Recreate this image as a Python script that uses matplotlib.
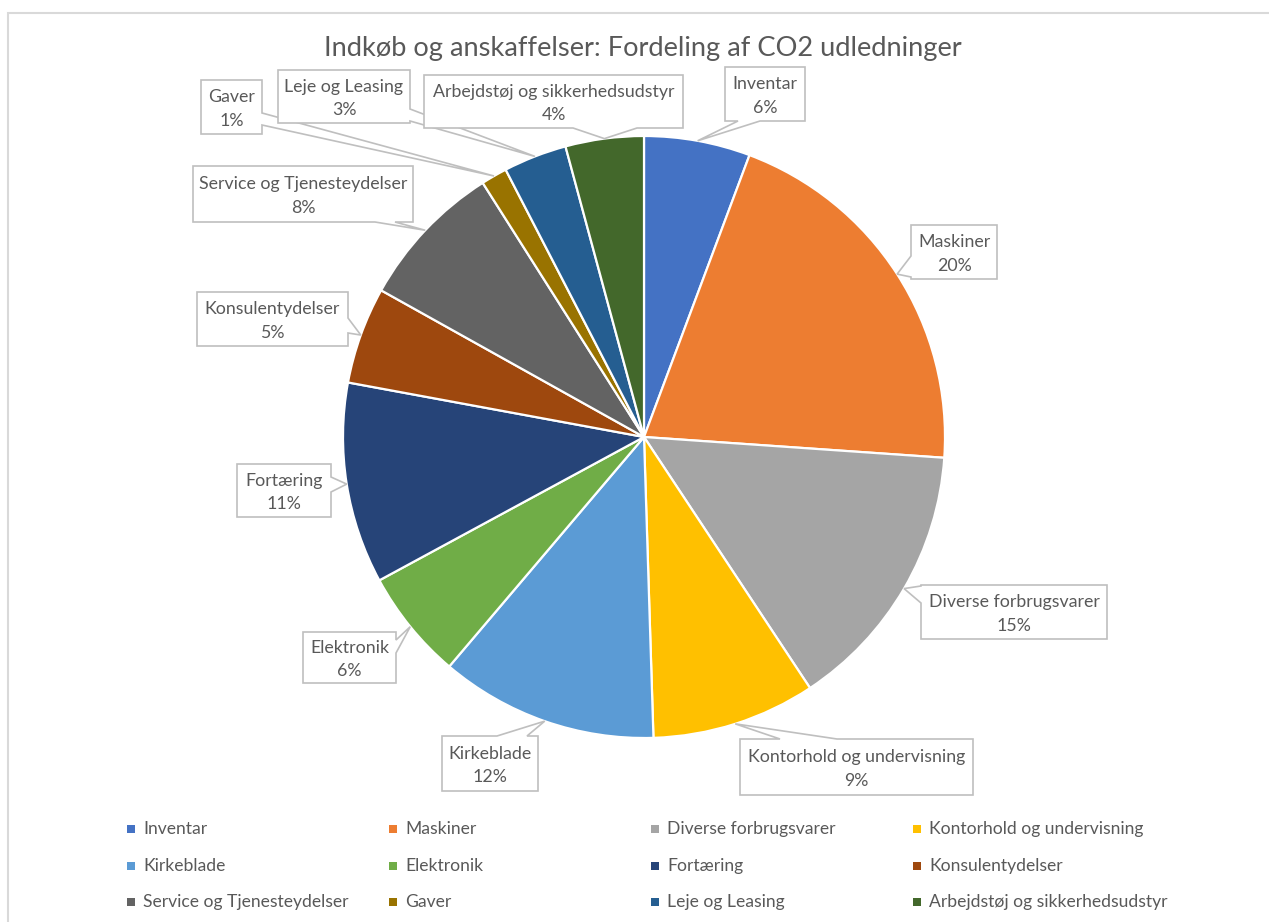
import matplotlib.pyplot as plt
from matplotlib.patches import Polygon, Rectangle
import numpy as np

plt.rcParams['font.family'] = ['Lato', 'DejaVu Sans']

categories = ['Inventar', 'Maskiner', 'Diverse forbrugsvarer', 'Kontorhold og undervisning',
              'Kirkeblade', 'Elektronik', 'Fortæring', 'Konsulentydelser',
              'Service og Tjenesteydelser', 'Gaver', 'Leje og Leasing',
              'Arbejdstøj og sikkerhedsudstyr']
shares = [5.7, 20.4, 14.6, 8.8, 11.7, 5.9, 10.8, 5.2, 7.9, 1.4, 3.4, 4.2]
colors = ['#4472C4', '#ED7D31', '#A5A5A5', '#FFC000', '#5B9BD5', '#70AD47',
          '#264478', '#9E480E', '#636363', '#997300', '#255E91', '#43682B']

# label boxes in pixels from top-left: (x0, y0, x1, y1), side of pointer, pointer base
boxes = [
    ((725, 67, 805, 121), 'bottom', (738, 760)),
    ((911, 225, 997, 279), 'left', (256, 277)),
    ((921, 585, 1107, 639), 'left', (586, 603)),
    ((740, 739, 973, 795), 'top', (780, 837)),
    ((442, 736, 538, 791), 'top', (497, 527)),
    ((303, 632, 396, 683), 'right', (640, 653)),
    ((237, 464, 331, 517), 'right', (477, 492)),
    ((197, 292, 348, 346), 'right', (318, 333)),
    ((193, 166, 413, 222), 'bottom', (375, 395)),
    ((201, 80, 262, 134), 'right', (113, 125)),
    ((278, 70, 410, 123), 'right', (109, 121)),
    ((424, 75, 683, 128), 'bottom', (573, 637)),
]

W, H = 1269, 922
cx, cy, R = 644, 437, 301
txt = '#595959'
edge = '#BFBFBF'


def P(x, y):
    return (x, H - y)


fig = plt.figure(figsize=(W / 100, H / 100), dpi=100)
ax = fig.add_axes([0, 0, 1, 1])

ax.pie(shares, colors=colors, startangle=90, counterclock=False,
       center=P(cx, cy), radius=R,
       wedgeprops=dict(edgecolor='white', linewidth=1.6))
ax.set_xlim(0, W)
ax.set_ylim(0, H)
ax.axis('off')

# chart frame
ax.add_patch(Rectangle(P(8, 1100), 1400, 1100 - 13, fill=False,
                       ec='#D9D9D9', lw=1.5, clip_on=False))

ax.text(*P(643, 49), 'Indkøb og anskaffelser: Fordeling af CO2 udledninger',
        ha='center', va='center', fontsize=19.6, color=txt)

total = sum(shares)
cum = np.cumsum([0] + shares[:-1])
for i, (name, v) in enumerate(zip(categories, shares)):
    mid = np.deg2rad(90 - 360 * (cum[i] + v / 2) / total)
    tip = (cx + R * np.cos(mid), H - (cy - R * np.sin(mid)))
    (x0, y0, x1, y1), side, (b0, b1) = boxes[i]
    pts = [(x0, y0)]
    if side == 'top':
        pts += [(b0, y0), None, (b1, y0)]
    pts.append((x1, y0))
    if side == 'right':
        pts += [(x1, b0), None, (x1, b1)]
    pts.append((x1, y1))
    if side == 'bottom':
        pts += [(b1, y1), None, (b0, y1)]
    pts.append((x0, y1))
    if side == 'left':
        pts += [(x0, b1), None, (x0, b0)]
    poly = [tip if p is None else P(*p) for p in pts]
    ax.add_patch(Polygon(poly, closed=True, fc='white', ec=edge, lw=1.2, zorder=3))
    pct = round(v / total * 100)
    ax.text(*P((x0 + x1) / 2, (y0 + y1) / 2 + 2), f'{name}\n{pct}%', ha='center',
            va='center', fontsize=12.8, color=txt, linespacing=1.6, zorder=4)

# legend, filled row by row
for i, (name, c) in enumerate(zip(categories, colors)):
    lx = 131 + 262 * (i % 4)
    ly = 829 + 36.5 * (i // 4)
    ax.scatter(*P(lx, ly), marker='s', s=40, color=c, linewidths=0)
    ax.text(*P(lx + 12, ly), name, ha='left', va='center', fontsize=12.6, color=txt)

fig.savefig('out.png', dpi=100)
